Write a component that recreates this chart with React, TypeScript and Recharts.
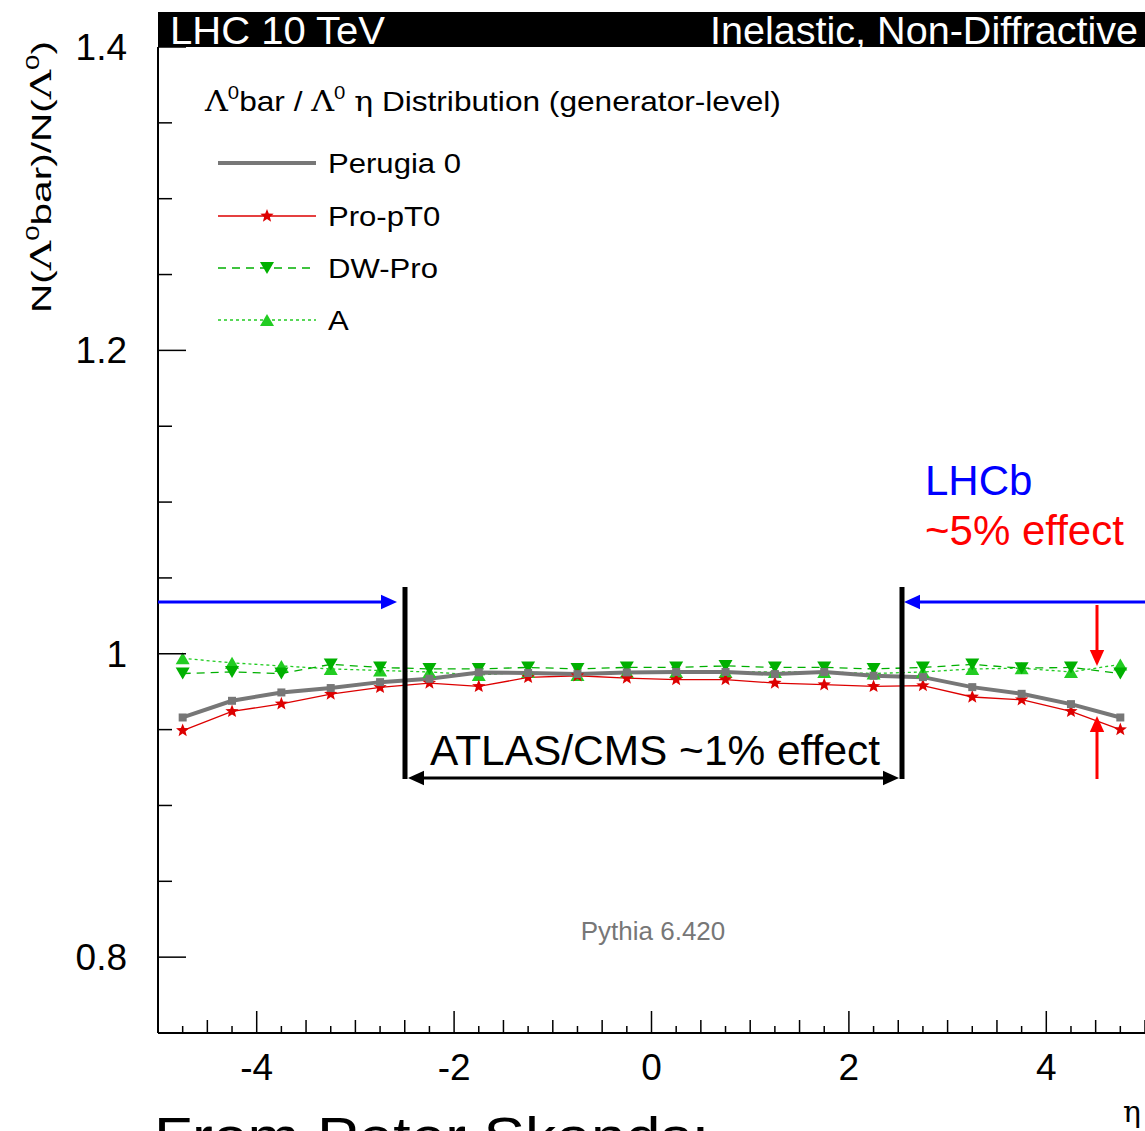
import { LineChart, Line, XAxis, YAxis } from 'recharts';

// bin centres in eta
const eta = [-4.75, -4.25, -3.75, -3.25, -2.75, -2.25, -1.75, -1.25, -0.75, -0.25, 0.25, 0.75, 1.25, 1.75, 2.25, 2.75, 3.25, 3.75, 4.25, 4.75];
const perugia0 = [0.958, 0.969, 0.9745, 0.9774, 0.9813, 0.9835, 0.9877, 0.9873, 0.9866, 0.9877, 0.988, 0.988, 0.9866, 0.988, 0.9855, 0.9846, 0.978, 0.9736, 0.9668, 0.958];
const proPT0 = [0.9494, 0.962, 0.967, 0.9734, 0.9778, 0.9807, 0.9785, 0.9844, 0.9855, 0.984, 0.983, 0.983, 0.9807, 0.9796, 0.9785, 0.979, 0.9715, 0.9697, 0.962, 0.95];
const dwPro = [0.987, 0.988, 0.987, 0.993, 0.991, 0.99, 0.99, 0.991, 0.99, 0.991, 0.991, 0.992, 0.991, 0.991, 0.99, 0.991, 0.993, 0.9905, 0.991, 0.987];
const tuneA = [0.997, 0.994, 0.992, 0.99, 0.989, 0.988, 0.986, 0.988, 0.986, 0.988, 0.988, 0.988, 0.988, 0.988, 0.987, 0.988, 0.99, 0.9905, 0.988, 0.993];

const xLabels = [-4, -2, 0, 2, 4];
const yLabels = [0.8, 1, 1.2, 1.4];
const yTicks = [0.75, 0.8, 0.85, 0.9, 0.95, 1, 1.05, 1.1, 1.15, 1.2, 1.25, 1.3, 1.35, 1.4];
const xTicks: number[] = [];
for (let i = -20; i <= 20; i++) xTicks.push(i / 4);

const data = eta.map((e, i) => ({
  eta: e,
  perugia0: perugia0[i],
  proPT0: proPT0[i],
  dwPro: dwPro[i],
  tuneA: tuneA[i],
}));

const FONT = 'Liberation Sans, Arial, sans-serif';
const SERIF = 'DejaVu Serif, serif';
const GRAY = '#777777';
const RED = '#dd0000';
const GREEN = '#00b000';
const LGREEN = '#22cc22';

const near = (a: number, b: number) => Math.abs(a - b) < 1e-6;

function YTick(props: any) {
  const { x, y, payload } = props;
  const v = payload.value;
  const major = yLabels.some((l) => near(l, v));
  return (
    <g>
      <line x1={x} x2={x + (major ? 28 : 14)} y1={y} y2={y} stroke="#000" strokeWidth={1.5} />
      {major && (
        <text x={x - 31} y={y + 13} textAnchor="end" fontSize={37} fontFamily={FONT} fill="#000">
          {String(v)}
        </text>
      )}
    </g>
  );
}

function XTick(props: any) {
  const { x, y, payload } = props;
  const v = payload.value;
  const major = near(v / 2, Math.round(v / 2));
  const half = near(v * 2, Math.round(v * 2));
  const len = major ? 22 : half ? 13 : 7;
  const labeled = xLabels.some((l) => near(l, v));
  return (
    <g>
      <line x1={x} x2={x} y1={y} y2={y - len} stroke="#000" strokeWidth={1.5} />
      {labeled && (
        <text x={x} y={y + 47} textAnchor="middle" fontSize={37} fontFamily={FONT} fill="#000">
          {String(v)}
        </text>
      )}
    </g>
  );
}

const star = (cx: number, cy: number, ro: number, ri: number) => {
  let d = '';
  for (let k = 0; k < 10; k++) {
    const r = k % 2 === 0 ? ro : ri;
    const a = -Math.PI / 2 + (k * Math.PI) / 5;
    d += (k === 0 ? 'M' : 'L') + (cx + r * Math.cos(a)).toFixed(2) + ',' + (cy + r * Math.sin(a)).toFixed(2);
  }
  return d + 'Z';
};

const StarDot = (p: any) => <path key={p.index} d={star(p.cx, p.cy, 7, 3)} fill={RED} />;
const SquareDot = (p: any) => <rect key={p.index} x={p.cx - 4} y={p.cy - 4} width={8} height={8} fill={GRAY} />;
const DownDot = (p: any) => (
  <path key={p.index} d={`M${p.cx - 7},${p.cy - 6}L${p.cx + 7},${p.cy - 6}L${p.cx},${p.cy + 6}Z`} fill={GREEN} />
);
const UpDot = (p: any) => (
  <path key={p.index} d={`M${p.cx - 7},${p.cy + 6}L${p.cx + 7},${p.cy + 6}L${p.cx},${p.cy - 6}Z`} fill={LGREEN} />
);

function Arrow({ x1, y1, x2, y2, color, w = 3, head = 16 }: any) {
  const a = Math.atan2(y2 - y1, x2 - x1);
  const hw = head * 0.45;
  const bx = x2 - head * Math.cos(a);
  const by = y2 - head * Math.sin(a);
  const px = -Math.sin(a) * hw;
  const py = Math.cos(a) * hw;
  return (
    <g>
      <line x1={x1} y1={y1} x2={bx} y2={by} stroke={color} strokeWidth={w} />
      <path d={`M${x2},${y2}L${bx + px},${by + py}L${bx - px},${by - py}Z`} fill={color} />
    </g>
  );
}

function Overlay() {
  const legendRows = [
    { y: 163, label: 'Perugia 0' },
    { y: 216, label: 'Pro-pT0' },
    { y: 268, label: 'DW-Pro' },
    { y: 320, label: 'A' },
  ];
  return (
    <svg width={1145} height={1131} style={{ position: 'absolute', left: 0, top: 0, pointerEvents: 'none' }}>
      {/* header band */}
      <rect x={158} y={12} width={990} height={35} fill="#000" />
      <text x={170} y={44} fontSize={38} fontFamily={FONT} fill="#fff" textLength={215} lengthAdjust="spacingAndGlyphs">LHC 10 TeV</text>
      <text x={710} y={44} fontSize={38} fontFamily={FONT} fill="#fff" textLength={428} lengthAdjust="spacingAndGlyphs">Inelastic, Non-Diffractive</text>

      {/* y axis title */}
      <text transform="translate(51,313) rotate(-90) scale(1.45,1)" fontSize={28} fontFamily={FONT} fill="#000">
        N(<tspan fontFamily={SERIF}>Λ</tspan>
        <tspan fontSize={19} dy={-12}>0</tspan>
        <tspan dy={12}>bar)/N(</tspan>
        <tspan fontFamily={SERIF}>Λ</tspan>
        <tspan fontSize={19} dy={-12}>0</tspan>
        <tspan dy={12}>)</tspan>
      </text>

      {/* legend */}
      <g transform="translate(205,0) scale(1.13,1) translate(-205,0)">
        <text x={205} y={111} fontSize={28} fontFamily={FONT} fill="#000">
          <tspan fontFamily={SERIF}>Λ</tspan>
          <tspan fontSize={18} dy={-12}>0</tspan>
          <tspan dy={12}>bar / </tspan>
          <tspan fontFamily={SERIF}>Λ</tspan>
          <tspan fontSize={18} dy={-12}>0</tspan>
          <tspan dy={12}> </tspan>
          <tspan fontFamily={SERIF}>η</tspan>
          <tspan> Distribution (generator-level)</tspan>
        </text>
      </g>
      <line x1={218} x2={316} y1={legendRows[0].y} y2={legendRows[0].y} stroke={GRAY} strokeWidth={4} />
      <line x1={218} x2={316} y1={legendRows[1].y} y2={legendRows[1].y} stroke={RED} strokeWidth={1.3} />
      <path d={star(267, legendRows[1].y, 7, 3)} fill={RED} />
      <line x1={218} x2={316} y1={legendRows[2].y} y2={legendRows[2].y} stroke={GREEN} strokeWidth={1.3} strokeDasharray="8 6" />
      <path d={`M260,${legendRows[2].y - 6}L274,${legendRows[2].y - 6}L267,${legendRows[2].y + 6}Z`} fill={GREEN} />
      <line x1={218} x2={316} y1={legendRows[3].y} y2={legendRows[3].y} stroke={LGREEN} strokeWidth={1.3} strokeDasharray="3 3" />
      <path d={`M260,${legendRows[3].y + 6}L274,${legendRows[3].y + 6}L267,${legendRows[3].y - 6}Z`} fill={LGREEN} />
      <g transform="translate(328,0) scale(1.11,1) translate(-328,0)">
        {legendRows.map((r) => (
          <text key={r.label} x={328} y={r.y + 10} fontSize={28} fontFamily={FONT} fill="#000">{r.label}</text>
        ))}
      </g>

      {/* annotations */}
      <Arrow x1={158} y1={602} x2={397} y2={602} color="#0000ff" />
      <Arrow x1={1145} y1={602} x2={904} y2={602} color="#0000ff" />
      <line x1={405} x2={405} y1={587} y2={779} stroke="#000" strokeWidth={5} />
      <line x1={902} x2={902} y1={587} y2={779} stroke="#000" strokeWidth={5} />
      <Arrow x1={650} y1={778} x2={408} y2={778} color="#000" />
      <Arrow x1={650} y1={778} x2={899} y2={778} color="#000" />
      <text x={430} y={765} fontSize={42} fontFamily={FONT} fill="#000" textLength={450} lengthAdjust="spacingAndGlyphs">ATLAS/CMS ~1% effect</text>
      <text x={925} y={495} fontSize={42} fontFamily={FONT} fill="#0000ff">LHCb</text>
      <text x={925} y={545} fontSize={42} fontFamily={FONT} fill="#ff0000">~5% effect</text>
      <Arrow x1={1097} y1={605} x2={1097} y2={666} color="#ff0000" />
      <Arrow x1={1097} y1={779} x2={1097} y2={716} color="#ff0000" />

      <text x={653} y={940} fontSize={26} fontFamily={FONT} fill="#777" textAnchor="middle">Pythia 6.420</text>
      <text x={1123} y={1122} fontSize={30} fontFamily={SERIF} fill="#000">η</text>
      <text x={154} y={1156} fontSize={56} fontFamily={FONT} fill="#000" textLength={555} lengthAdjust="spacingAndGlyphs">From Peter Skands:</text>
    </svg>
  );
}

export default function App() {
  return (
    <div style={{ position: 'absolute', left: 0, top: 0, width: 1145, height: 1131, background: '#fff', overflow: 'hidden' }}>
      <LineChart width={1145} height={1131} data={data} margin={{ top: 47, right: 0, bottom: 68, left: 0 }}>
        <XAxis
          dataKey="eta"
          type="number"
          domain={[-5, 5]}
          ticks={xTicks}
          interval={0}
          height={30}
          tickSize={0}
          tickMargin={0}
          tick={<XTick />}
          axisLine={{ stroke: '#000', strokeWidth: 2 }}
          allowDataOverflow
        />
        <YAxis
          type="number"
          domain={[0.75, 1.4]}
          ticks={yTicks}
          interval={0}
          width={158}
          tickSize={0}
          tickMargin={0}
          tick={<YTick />}
          axisLine={{ stroke: '#000', strokeWidth: 2 }}
          allowDataOverflow
        />
        <Line dataKey="tuneA" stroke={LGREEN} strokeWidth={1.3} strokeDasharray="3 3" dot={UpDot} isAnimationActive={false} />
        <Line dataKey="dwPro" stroke={GREEN} strokeWidth={1.3} strokeDasharray="8 6" dot={DownDot} isAnimationActive={false} />
        <Line dataKey="proPT0" stroke={RED} strokeWidth={1.3} dot={StarDot} isAnimationActive={false} />
        <Line dataKey="perugia0" stroke={GRAY} strokeWidth={4} dot={SquareDot} isAnimationActive={false} />
      </LineChart>
      <Overlay />
    </div>
  );
}
